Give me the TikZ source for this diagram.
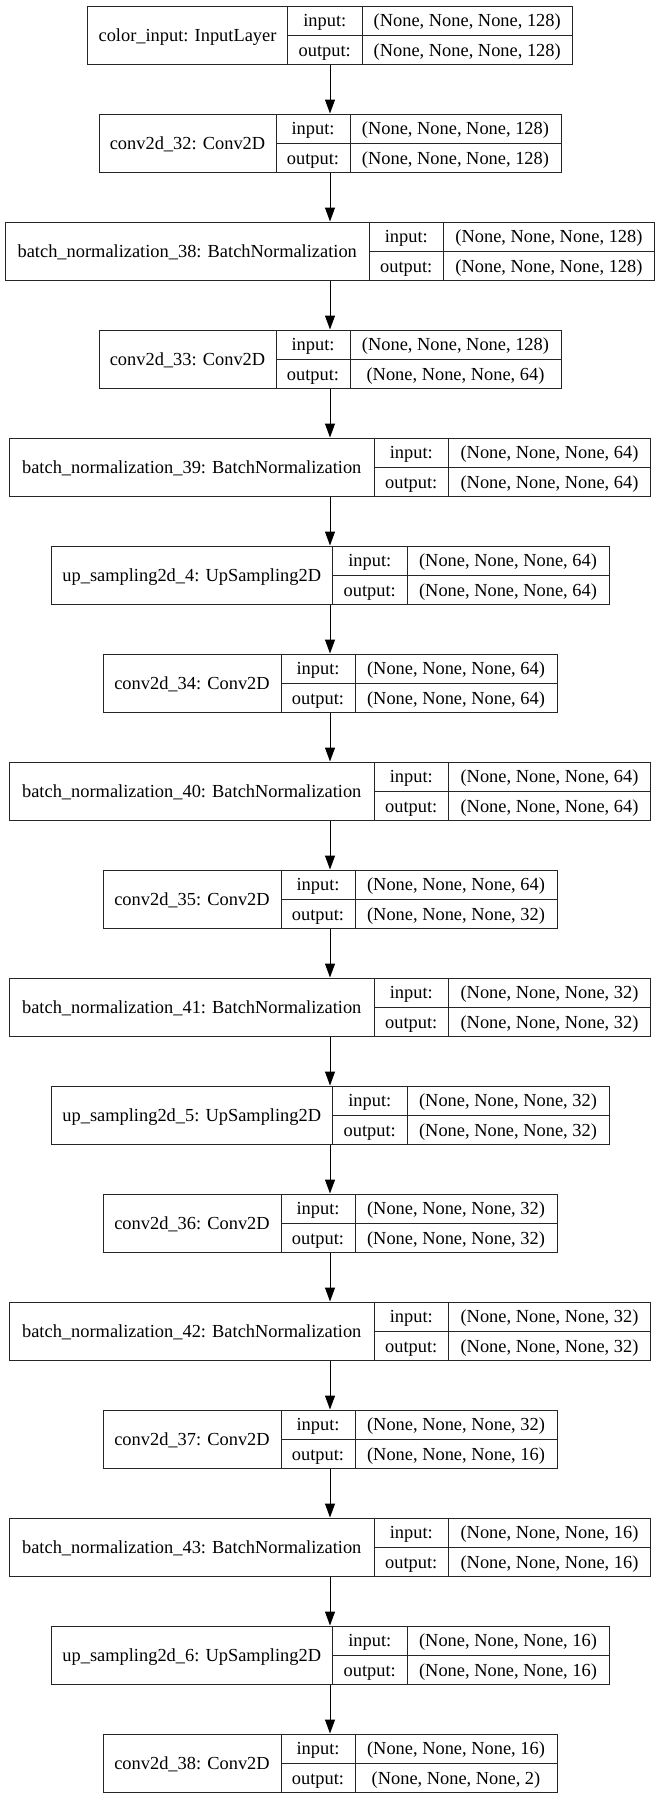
\documentclass[tikz,border=0pt]{standalone}
\usepackage{fontspec}
\setmainfont{Liberation Serif}
\usetikzlibrary{arrows.meta}
\tikzset{
  box/.style={draw=black!85, line width=1pt, inner sep=0pt, minimum height=58.5pt},
  ln/.style={draw=black!85, line width=1pt},
  txt/.style={inner sep=0pt, text height=12.5pt, text depth=0pt, font=\fontsize{18.4}{22}\selectfont},
  arr/.style={draw=black, line width=1pt, -{Triangle[length=14pt,width=10pt]}}
}
\newcommand\lay[9]{%
  \pgfmathsetmacro\lmid{#2+29.25}%
  \pgfmathsetmacro\lbot{#2+58.5}%
  \pgfmathsetmacro\rA{#2+14.625}%
  \pgfmathsetmacro\rB{#2+43.875}%
  \pgfmathsetmacro\lcx{(#3+#6)/2}%
  \pgfmathsetmacro\lwid{#6-#3}%
  \node[box, minimum width=\lwid pt] (#1) at (\lcx,\lmid) {};
  \draw[ln] (#4,#2) -- (#4,\lbot);
  \draw[ln] (#5,#2) -- (#5,\lbot);
  \draw[ln] (#4,\lmid) -- (#6,\lmid);
  \node[txt] (#1-name) at ({(#3+#4)/2},\lmid) {#7};
  \node[txt] (#1-il) at ({(#4+#5)/2},\rA) {input:};
  \node[txt] (#1-ol) at ({(#4+#5)/2},\rB) {output:};
  \node[txt] (#1-is) at ({(#5+#6)/2},\rA) {#8};
  \node[txt] (#1-os) at ({(#5+#6)/2},\rB) {#9};
}
\begin{document}
\begin{tikzpicture}[x=1pt,y=-1pt]
\fill[white] (0,0) rectangle (660,1799);
\useasboundingbox (0,0) rectangle (660,1799);
\lay{L1}{6}{87.5}{287.5}{362}{572.5}{color\_input: InputLayer}{(None, None, None, 128)}{(None, None, None, 128)}
\lay{L2}{114}{99}{276}{350}{561}{conv2d\_32: Conv2D}{(None, None, None, 128)}{(None, None, None, 128)}
\lay{L3}{222}{5.5}{369}{443.5}{654.5}{batch\_normalization\_38: BatchNormalization}{(None, None, None, 128)}{(None, None, None, 128)}
\lay{L4}{330}{99}{276}{350}{561}{conv2d\_33: Conv2D}{(None, None, None, 128)}{(None, None, None, 64)}
\lay{L5}{438}{9.5}{374}{448.5}{650.5}{batch\_normalization\_39: BatchNormalization}{(None, None, None, 64)}{(None, None, None, 64)}
\lay{L6}{546}{51}{332.5}{407}{609}{up\_sampling2d\_4: UpSampling2D}{(None, None, None, 64)}{(None, None, None, 64)}
\lay{L7}{654}{103}{281}{355}{557}{conv2d\_34: Conv2D}{(None, None, None, 64)}{(None, None, None, 64)}
\lay{L8}{762}{9.5}{374}{448.5}{650.5}{batch\_normalization\_40: BatchNormalization}{(None, None, None, 64)}{(None, None, None, 64)}
\lay{L9}{870}{103}{281}{355}{557}{conv2d\_35: Conv2D}{(None, None, None, 64)}{(None, None, None, 32)}
\lay{L10}{978}{9.5}{374}{448.5}{650.5}{batch\_normalization\_41: BatchNormalization}{(None, None, None, 32)}{(None, None, None, 32)}
\lay{L11}{1086}{51}{332.5}{407}{609}{up\_sampling2d\_5: UpSampling2D}{(None, None, None, 32)}{(None, None, None, 32)}
\lay{L12}{1194}{103}{281}{355}{557}{conv2d\_36: Conv2D}{(None, None, None, 32)}{(None, None, None, 32)}
\lay{L13}{1302}{9.5}{374}{448.5}{650.5}{batch\_normalization\_42: BatchNormalization}{(None, None, None, 32)}{(None, None, None, 32)}
\lay{L14}{1410}{103}{281}{355}{557}{conv2d\_37: Conv2D}{(None, None, None, 32)}{(None, None, None, 16)}
\lay{L15}{1518}{9.5}{374}{448.5}{650.5}{batch\_normalization\_43: BatchNormalization}{(None, None, None, 16)}{(None, None, None, 16)}
\lay{L16}{1626}{51}{332.5}{407}{609}{up\_sampling2d\_6: UpSampling2D}{(None, None, None, 16)}{(None, None, None, 16)}
\lay{L17}{1734}{103}{281}{355}{557}{conv2d\_38: Conv2D}{(None, None, None, 16)}{(None, None, None, 2)}
\foreach \a/\b in {L1/L2,L2/L3,L3/L4,L4/L5,L5/L6,L6/L7,L7/L8,L8/L9,L9/L10,L10/L11,L11/L12,L12/L13,L13/L14,L14/L15,L15/L16,L16/L17}
  \draw[arr] (\a) -- (\b);
\end{tikzpicture}
\end{document}
